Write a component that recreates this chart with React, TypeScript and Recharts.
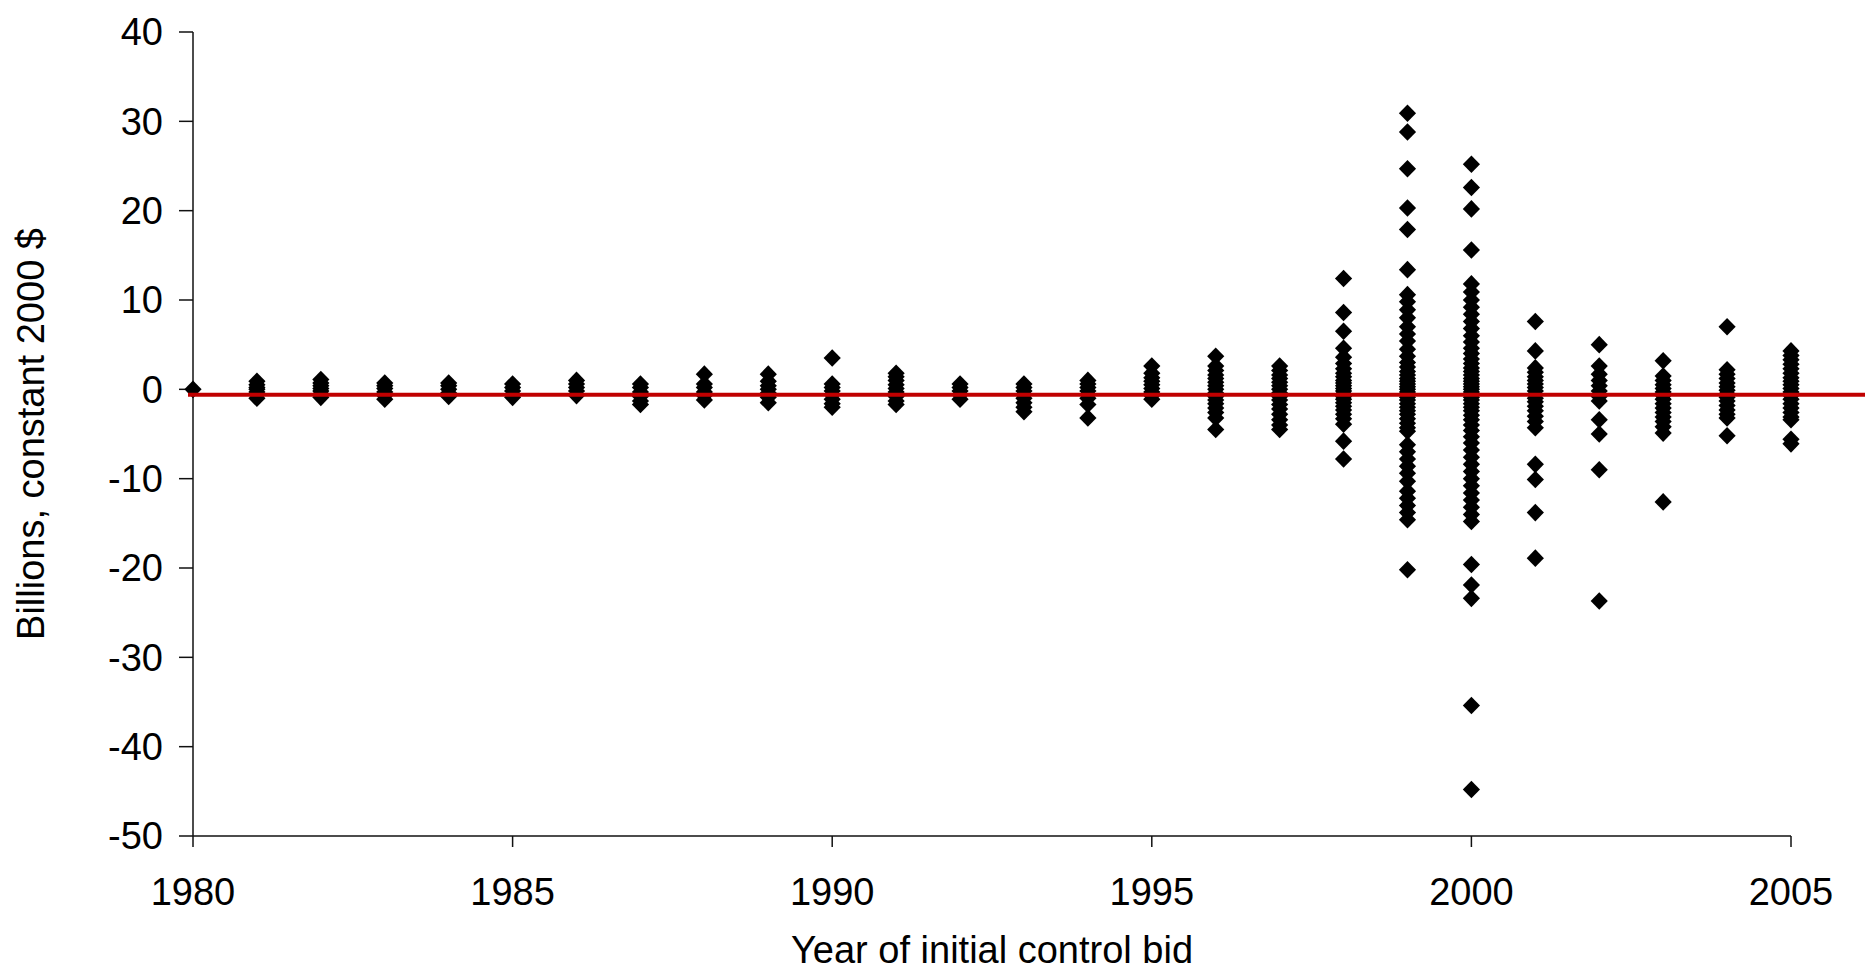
import { Label, ReferenceLine, Scatter, ScatterChart, XAxis, YAxis } from "recharts";

// Values (billions, constant 2000 $) read per year of initial control bid
const years = [1980, 1981, 1982, 1983, 1984, 1985, 1986, 1987, 1988, 1989, 1990, 1991, 1992, 1993, 1994, 1995, 1996, 1997, 1998, 1999, 2000, 2001, 2002, 2003, 2004, 2005];

const v1980 = [0];
const v1981 = [0.9, 0.5, 0.2, 0, -0.3, -0.6, -1.0];
const v1982 = [1.1, 0.7, 0.4, 0.1, -0.2, -0.5, -0.9];
const v1983 = [0.7, 0.4, 0.1, -0.3, -0.7, -1.1];
const v1984 = [0.7, 0.4, 0, -0.4, -0.8];
const v1985 = [0.6, 0.2, -0.2, -0.6, -0.9];
const v1986 = [1.0, 0.6, 0.2, -0.2, -0.7];
const v1987 = [0.6, 0.2, -0.3, -0.8, -1.3, -1.7];
const v1988 = [1.7, 0.6, 0.2, -0.3, -0.7, -1.2];
const v1989 = [1.7, 0.9, 0.4, 0, -0.4, -0.9, -1.5];
const v1990 = [3.5, 0.6, 0.2, -0.2, -0.6, -1.1, -1.6, -2.0];
const v1991 = [1.8, 1.4, 1.0, 0.5, 0.1, -0.3, -0.8, -1.3, -1.7];
const v1992 = [0.6, 0.2, -0.2, -0.6, -1.1];
const v1993 = [0.6, 0.2, -0.2, -0.6, -1.0, -1.5, -2.0, -2.5];
const v1994 = [1.0, 0.6, 0.2, -0.2, -0.6, -1.0, -1.7, -3.2];
const v1995 = [2.6, 1.8, 1.3, 0.9, 0.5, 0.1, -0.3, -0.7, -1.1];
const v1996 = [3.7, 2.6, 2.1, 1.6, 1.2, 0.8, 0.4, 0, -0.4, -0.8, -1.2, -1.6, -2.1, -2.6, -3.2, -4.5];
const v1997 = [2.6, 2.1, 1.6, 1.2, 0.8, 0.4, 0, -0.4, -0.8, -1.2, -1.7, -2.2, -2.8, -3.4, -4.0, -4.5];
const v1998 = [12.4, 8.6, 6.5, 4.6, 3.6, 2.9, 2.3, 1.8, 1.4, 1.0, 0.7, 0.4, 0.1, -0.2, -0.5, -0.8, -1.1, -1.5, -1.9, -2.3, -2.8, -3.3, -3.9, -5.8, -7.8];
const v1999 = [
  30.9, 28.8, 24.7, 20.3, 17.9, 13.4, 10.6, 9.8, 8.9, 8.0, 7.0, 6.2, 5.4, 4.5, 3.7, 3.0, 2.5, 2.0, 1.6, 1.2, 0.9, 0.6, 0.3, 0,
  -0.3, -0.6, -0.9, -1.2, -1.6, -2.0, -2.4, -2.8, -3.3, -3.8, -4.3, -4.7, -6.2, -7.0, -7.8, -8.6, -9.4, -10.3, -11.4, -12.2,
  -13.0, -13.8, -14.6, -20.2,
];
const v2000 = [
  25.2, 22.6, 20.2, 15.6, 11.8, 10.9, 10.0, 9.2, 8.4, 7.6, 6.8, 6.0, 5.3, 4.6, 4.0, 3.4, 2.9, 2.4, 2.0, 1.6, 1.2, 0.9, 0.6, 0.3,
  0, -0.3, -0.6, -0.9, -1.2, -1.6, -2.0, -2.4, -2.9, -3.4, -4.0, -4.6, -5.3, -6.0, -6.8, -7.6, -8.4, -9.2, -10.0, -10.8, -11.6,
  -12.4, -13.2, -14.0, -14.8, -19.6, -21.9, -23.4, -35.4, -44.8,
];
const v2001 = [7.6, 4.3, 2.4, 1.9, 1.4, 1.0, 0.6, 0.2, -0.2, -0.6, -1.0, -1.4, -1.9, -2.4, -3.0, -3.6, -4.3, -8.4, -10.1, -13.8, -18.9];
const v2002 = [5.0, 2.6, 1.7, 1.0, 0.4, -0.2, -0.8, -1.3, -3.4, -5.0, -9.0, -23.7];
const v2003 = [3.2, 1.5, 1.0, 0.5, 0.1, -0.3, -0.7, -1.1, -1.6, -2.1, -2.6, -3.1, -3.6, -4.2, -4.9, -12.6];
const v2004 = [7.0, 2.2, 1.7, 1.2, 0.7, 0.3, -0.1, -0.5, -0.9, -1.3, -1.8, -2.3, -2.8, -3.2, -5.2];
const v2005 = [4.3, 3.8, 3.3, 2.8, 2.3, 1.8, 1.3, 0.9, 0.5, 0.1, -0.3, -0.7, -1.1, -1.6, -2.1, -2.6, -3.1, -3.4, -5.6, -6.1];

const valuesByYear = [
  v1980, v1981, v1982, v1983, v1984, v1985, v1986, v1987, v1988, v1989, v1990, v1991, v1992,
  v1993, v1994, v1995, v1996, v1997, v1998, v1999, v2000, v2001, v2002, v2003, v2004, v2005,
];

const xTicks = [1980, 1985, 1990, 1995, 2000, 2005];
const yTicks = [-50, -40, -30, -20, -10, 0, 10, 20, 30, 40];
const redLineValue = -0.6;

const points = years.flatMap((year, i) => valuesByYear[i].map((v) => ({ x: year, y: v })));

const FONT = '"Liberation Sans", Arial, sans-serif';
const tickStyle = { fill: "#000", fontSize: 38, fontFamily: FONT };
const axisStroke = { stroke: "#111", strokeWidth: 1.5 };

function Diamond(props: any) {
  const { cx, cy } = props;
  if (cx == null || cy == null) return null;
  const w = 8.6;
  const h = 8.8;
  return <polygon points={`${cx},${cy - h} ${cx + w},${cy} ${cx},${cy + h} ${cx - w},${cy}`} fill="#000" />;
}

function RedLine(props: any) {
  const { x1, y1, y2 } = props;
  return <line x1={x1 - 5} y1={y1} x2={1865} y2={y2} stroke="#c00000" strokeWidth={4} />;
}

export default function App() {
  return (
    <div style={{ position: "absolute", left: 0, top: 0, width: 1865, height: 973, background: "#fff" }}>
      <ScatterChart width={1865} height={973} margin={{ top: 32, right: 74, bottom: 0, left: 0 }}>
        <XAxis
          type="number"
          dataKey="x"
          domain={[1980, 2005]}
          ticks={xTicks}
          height={137}
          tickSize={11}
          tickMargin={31}
          tick={tickStyle}
          axisLine={axisStroke}
          tickLine={axisStroke}
        >
          <Label
            content={(p: any) => {
              const vb = p.viewBox || { x: 193, y: 836, width: 1598 };
              return (
                <text x={vb.x + vb.width / 2} y={vb.y + 127} textAnchor="middle" fontSize={38} fontFamily={FONT} fill="#000">
                  Year of initial control bid
                </text>
              );
            }}
          />
        </XAxis>
        <YAxis
          type="number"
          dataKey="y"
          domain={[-50, 40]}
          ticks={yTicks}
          width={193}
          tickSize={14}
          tickMargin={16}
          tick={tickStyle}
          axisLine={axisStroke}
          tickLine={axisStroke}
        >
          <Label
            content={(p: any) => {
              const vb = p.viewBox || { x: 0, y: 32, height: 804 };
              const cx = vb.x + 44;
              const cy = vb.y + vb.height / 2;
              return (
                <text x={cx} y={cy} transform={`rotate(-90, ${cx}, ${cy})`} textAnchor="middle" fontSize={38} fontFamily={FONT} fill="#000">
                  Billions, constant 2000 $
                </text>
              );
            }}
          />
        </YAxis>
        <Scatter data={points} shape={<Diamond />} isAnimationActive={false} />
        <ReferenceLine y={redLineValue} shape={<RedLine />} zIndex={2000} />
      </ScatterChart>
    </div>
  );
}
